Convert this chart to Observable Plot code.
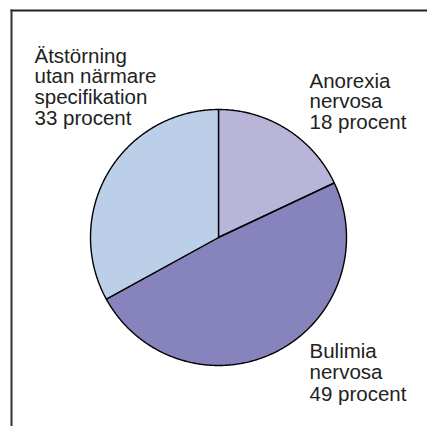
<!DOCTYPE html>
<html>
<head>
<meta charset="utf-8">
<script src="https://cdn.jsdelivr.net/npm/d3@7"></script>
<script src="https://cdn.jsdelivr.net/npm/@observablehq/plot@0.6"></script>
<style>
  html, body { margin: 0; padding: 0; background: #fff; }
</style>
</head>
<body>
<div id="chart"></div>
<script>
// Data
const categories = ["Anorexia nervosa", "Bulimia nervosa", "Ätstörning utan närmare specifikation"];
const values = [18, 49, 33];
const labels = ["Anorexia\nnervosa\n18 procent", "Bulimia\nnervosa\n49 procent", "Ätstörning\nutan närmare\nspecifikation\n33 procent"];
const colors = ["#b8b5d9", "#8783bd", "#bbcfe9"];

// Build slice outlines in unit-circle coordinates (clockwise from 12 o'clock)
const total = d3.sum(values);
const pts = [];
let acc = 0;
categories.forEach((c, i) => {
  const a0 = acc / total * 2 * Math.PI;
  acc += values[i];
  const a1 = acc / total * 2 * Math.PI;
  const steps = Math.max(2, Math.ceil((a1 - a0) / (Math.PI / 360)));
  pts.push({cat: c, x: 0, y: 0});
  for (let k = 0; k <= steps; k++) {
    const a = a0 + (a1 - a0) * k / steps;
    pts.push({cat: c, x: Math.sin(a), y: Math.cos(a)});
  }
  pts.push({cat: c, x: 0, y: 0});
});

const font = "Liberation Sans, Arial, Helvetica, sans-serif";
const textOpts = {fontSize: 20.5, lineHeight: 1.01, textAnchor: "start", lineAnchor: "top", fill: "#222", fontFamily: font};

const chart = Plot.plot({
  width: 427,
  height: 426,
  marginTop: 10,
  marginLeft: 11,
  marginRight: 0,
  marginBottom: 0,
  style: {fontFamily: font, background: "#fff"},
  x: {domain: [-1, 1], range: [90, 346], axis: null},
  y: {domain: [-1, 1], range: [365, 109], axis: null},
  color: {domain: categories, range: colors},
  marks: [
    Plot.frame({anchor: "top", stroke: "#222", strokeWidth: 2}),
    Plot.frame({anchor: "left", stroke: "#333", strokeWidth: 2}),
    Plot.line(pts, {x: "x", y: "y", z: "cat", fill: "cat", stroke: "#000", strokeWidth: 1.4, strokeLinejoin: "round", curve: "linear"}),
    Plot.text([labels[2]], {...textOpts, text: d => d, frameAnchor: "top-left", dx: 23, dy: 37.5}),
    Plot.text([labels[0]], {...textOpts, text: d => d, frameAnchor: "top-left", dx: 298, dy: 62.5}),
    Plot.text([labels[1]], {...textOpts, text: d => d, frameAnchor: "top-left", dx: 298, dy: 332.5, lineHeight: 1.04})
  ]
});
document.getElementById("chart").appendChild(chart);
</script>
</body>
</html>
